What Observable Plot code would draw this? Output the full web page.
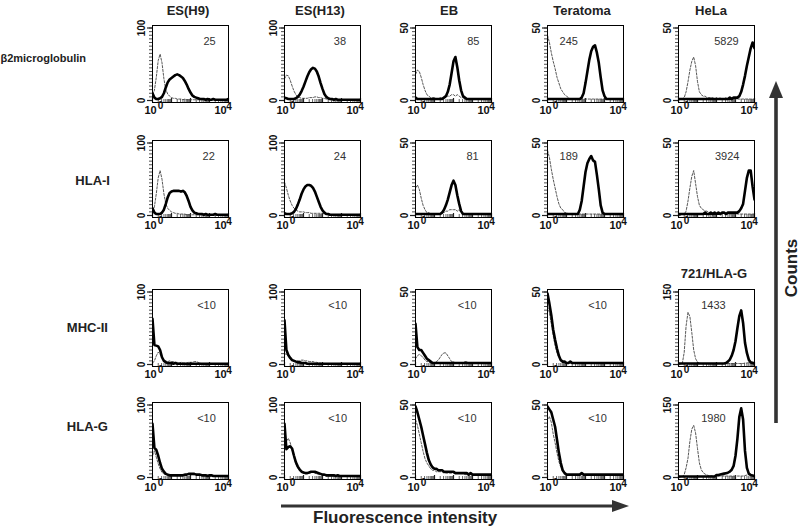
<!DOCTYPE html>
<html><head><meta charset="utf-8">
<script src="https://cdn.jsdelivr.net/npm/d3@7"></script>
<script src="https://cdn.jsdelivr.net/npm/@observablehq/plot@0.6"></script>
<style>
body{margin:0;background:#fff;}
#root{position:relative;width:800px;height:530px;font-family:"Liberation Sans",Arial,sans-serif;color:#222;overflow:hidden;}
.lbl{position:absolute;font-weight:bold;white-space:nowrap;line-height:1;}
.panel{position:absolute;}
</style></head><body><div id="root"></div>
<script>
// channel positions (log10 of fluorescence intensity)
const LOG_CHANNEL = [0,0.1,0.2,0.3,0.4,0.5,0.6,0.7,0.8,0.9,1,1.1,1.2,1.3,1.4,1.5,1.6,1.7,1.8,1.9,2,2.1,2.2,2.3,2.4,2.5,2.6,2.7,2.8,2.9,3,3.1,3.2,3.3,3.4,3.5,3.6,3.7,3.8,3.9,4];

const columns = ["ES(H9)","ES(H13)","EB","Teratoma","HeLa"];
const rowNames = ["β2microglobulin","HLA-I","MHC-II","HLA-G"];
const yMax = [[100,100,50,50,50],[100,100,50,50,50],[100,100,50,50,150],[100,100,50,50,150]];
const mfi = [["25","38","85","245","5829"],["22","24","81","189","3924"],["<10","<10","<10","<10","1433"],["<10","<10","<10","<10","1980"]];
const xTickBase = ["10","10"];
const xTickExp = ["0","4"];

// β2microglobulin
const b2m_H9_ctrl   = [8,14,32,55,64,52,30,15,9,6,4,3,3,2,2,2,1,2,1,1,1,1,1,1,1,1,1,1,1,1,1,1,1,1,1,1,1,1,1,1,1];
const b2m_H9_stain  = [10,4,2,2,3,5,10,18,25,29,31,33,35,36,35,33,31,27,22,16,11,7,5,4,3,2,2,2,1,2,1,1,2,1,1,1,1,1,1,1,2];
const b2m_H13_ctrl  = [30,35,34,28,20,13,8,5,4,3,3,3,3,4,4,4,5,5,4,4,3,3,2,2,1,1,1,1,1,1,1,1,1,1,1,1,1,1,1,1,1];
const b2m_H13_stain = [4,3,2,2,2,2,3,5,8,13,19,26,33,39,43,45,44,40,33,24,16,9,5,3,2,2,1,2,1,1,1,1,1,1,1,1,1,1,1,1,1];
const b2m_EB_ctrl   = [18,21,20,16,11,7,4,3,2,2,2,1,1,2,2,2,3,3,3,4,4,3,4,3,2,2,1,1,1,1,1,1,1,1,1,1,1,1,1,1,1];
const b2m_EB_stain  = [2,1,1,1,1,1,1,1,1,1,1,1,1,1,1,2,3,6,11,19,27,30,23,14,7,3,2,1,1,1,1,1,1,1,1,1,1,1,1,1,1];
const b2m_Ter_ctrl  = [45,40,33,27,22,16,12,8,6,4,3,2,1,1,1,1,1,1,1,1,1,1,1,1,1,1,1,1,1,1,1,1,1,1,1,1,1,1,1,1,1];
const b2m_Ter_stain = [1,1,1,1,1,1,1,1,1,1,1,1,1,1,1,1,1,1,2,5,12,20,28,34,37,38,33,26,16,7,3,1,1,1,1,1,1,1,1,1,1];
const b2m_HeLa_ctrl = [0,1,1,2,6,13,21,27,30,24,13,6,4,3,3,2,2,2,2,1,2,1,2,1,1,2,1,1,2,1,1,1,1,1,1,1,1,1,1,1,1];
const b2m_HeLa_stain= [1,1,1,1,1,1,1,1,1,1,1,1,1,1,1,1,1,1,1,1,1,1,1,1,1,1,1,2,1,2,2,2,3,6,11,17,24,30,36,40,36];
// HLA-I
const hla1_H9_ctrl   = [6,12,30,52,62,50,30,16,10,7,5,4,3,3,2,2,2,2,1,1,1,1,1,1,1,1,1,1,1,1,1,1,1,1,1,1,1,1,1,1,1];
const hla1_H9_stain  = [10,4,2,2,2,4,8,16,25,31,33,34,34,34,34,33,34,32,27,20,12,7,4,3,2,2,2,1,2,1,1,1,1,2,1,1,1,1,1,1,1];
const hla1_H13_ctrl  = [46,38,28,20,14,10,8,6,5,5,5,4,4,4,3,3,3,3,3,3,3,2,2,1,1,1,1,1,1,1,1,1,1,1,1,1,1,1,1,1,1];
const hla1_H13_stain = [3,2,2,2,3,5,9,15,22,30,36,40,42,42,41,38,33,26,19,12,7,4,2,2,1,1,1,1,1,1,1,1,1,1,1,1,1,1,1,1,1];
const hla1_EB_ctrl   = [19,21,18,12,7,4,2,2,1,1,1,1,1,1,2,2,3,3,4,4,4,4,3,4,2,1,1,1,1,1,1,1,1,1,1,1,1,1,1,1,1];
const hla1_EB_stain  = [1,1,1,1,1,1,1,1,1,1,1,1,1,1,2,4,7,11,16,21,24,21,14,8,3,1,1,1,1,1,1,1,1,1,1,1,1,1,1,1,1];
const hla1_Ter_ctrl  = [45,40,32,25,19,13,8,5,4,2,2,1,1,1,1,1,1,1,1,1,1,1,1,1,1,1,1,1,1,1,1,1,1,1,1,1,1,1,1,1,1];
const hla1_Ter_stain = [1,1,1,1,1,1,1,1,1,1,1,1,1,1,1,1,1,4,10,20,30,36,39,41,38,37,28,18,7,2,1,1,1,1,1,1,1,1,1,1,1];
const hla1_HeLa_ctrl = [0,0,1,1,3,10,19,27,31,22,13,7,5,4,3,3,2,2,2,2,1,2,1,1,2,1,1,1,1,1,1,1,1,1,1,1,1,1,1,1,1];
const hla1_HeLa_stain= [1,1,1,1,1,1,1,1,1,1,1,1,1,1,2,1,1,2,1,2,1,2,1,2,2,1,2,2,2,2,2,2,3,5,8,17,26,31,31,20,11];
// MHC-II
const mhc2_H9_ctrl   = [2,5,12,17,14,9,6,5,4,5,4,4,3,3,2,3,2,2,2,3,3,3,4,4,3,2,1,1,1,1,1,1,1,1,1,1,1,1,1,1,1];
const mhc2_H9_stain  = [63,27,26,25,20,10,5,3,2,2,2,1,2,1,1,1,1,1,1,1,1,1,1,1,1,1,1,1,1,1,1,1,1,1,1,1,1,1,1,1,1];
const mhc2_H13_ctrl  = [15,14,12,9,7,6,5,5,5,6,6,5,5,4,4,4,3,3,2,2,1,1,1,1,1,1,1,1,1,1,1,1,1,1,1,1,1,1,1,1,1];
const mhc2_H13_stain = [61,20,13,9,6,5,4,3,3,2,2,2,1,1,1,1,1,1,1,1,1,1,1,1,1,1,1,1,1,1,1,1,1,1,1,1,1,1,1,1,1];
const mhc2_EB_ctrl   = [4,6,7,6,5,3,2,2,1,1,1,2,3,5,7,8,8,6,4,2,2,1,1,1,1,1,2,2,1,1,1,1,1,1,1,1,1,1,1,1,1];
const mhc2_EB_stain  = [28,12,10,10,8,6,4,3,2,1,1,1,1,1,1,1,1,1,1,1,1,1,1,1,1,1,1,1,1,1,1,1,1,1,1,1,1,1,1,1,1];
const mhc2_Ter_ctrl  = [40,36,28,20,13,8,5,3,2,1,1,1,1,1,1,1,1,1,1,1,1,1,1,1,1,1,1,1,1,1,1,1,1,1,1,1,1,1,1,1,1];
const mhc2_Ter_stain = [49,42,34,24,17,11,6,3,2,2,1,1,2,1,1,1,1,1,1,1,1,1,1,1,1,1,1,1,1,1,1,1,1,1,1,1,1,1,1,1,1];
const mhc2_721_ctrl  = [0,1,2,25,80,108,99,66,30,12,5,3,2,2,2,2,2,2,2,2,2,2,2,2,2,2,2,2,2,2,2,2,2,2,2,3,3,4,5,6,4];
const mhc2_721_stain = [2,2,2,2,2,2,2,2,2,2,2,2,2,2,2,2,2,2,2,2,2,2,2,2,2,3,6,10,18,30,48,75,100,112,86,45,24,10,4,3,2];
// HLA-G
const hlag_H9_ctrl   = [30,37,28,19,12,7,5,4,3,3,3,3,3,3,3,3,3,3,4,4,4,4,4,4,4,4,3,3,3,2,2,2,2,2,2,2,2,2,2,2,2];
const hlag_H9_stain  = [74,41,38,30,20,12,8,5,4,3,3,3,3,3,3,3,3,4,4,5,5,5,5,4,4,4,3,3,3,2,3,3,2,2,2,2,2,2,2,2,2];
const hlag_H13_ctrl  = [40,50,54,48,38,28,19,13,10,7,6,6,6,6,7,7,6,5,4,4,3,3,2,2,2,2,2,2,2,2,2,2,2,2,2,2,2,2,2,2,2];
const hlag_H13_stain = [74,39,42,43,40,30,21,15,11,8,7,6,6,7,8,8,8,7,6,5,4,4,3,3,3,3,3,2,3,2,2,2,2,2,2,2,2,2,2,2,2];
const hlag_EB_ctrl   = [40,36,30,24,18,13,10,8,6,5,5,4,4,4,4,3,3,3,3,3,3,3,3,3,3,3,2,2,2,2,2,2,2,2,2,2,2,2,2,2,2];
const hlag_EB_stain  = [49,45,40,35,29,23,17,12,9,7,6,6,5,5,5,4,4,4,4,4,4,3,3,3,3,3,3,3,2,3,2,2,2,2,2,2,2,2,2,2,2];
const hlag_Ter_ctrl  = [40,42,38,30,24,17,11,7,4,3,2,2,2,2,2,2,2,2,2,2,2,2,2,2,2,2,2,2,2,2,2,2,2,2,2,2,2,2,2,2,2];
const hlag_Ter_stain = [49,47,45,40,35,26,17,10,5,3,2,2,2,2,2,2,2,2,3,2,2,2,2,2,2,2,2,2,2,2,2,2,2,2,2,2,2,2,2,2,2];
const hlag_721_ctrl  = [0,1,2,6,20,40,75,100,108,92,60,30,16,10,7,5,4,4,3,3,3,3,3,3,3,3,3,3,3,3,3,3,3,3,3,4,5,6,5,4,3];
const hlag_721_stain = [2,2,2,2,2,2,2,2,2,2,2,2,2,2,2,2,2,2,2,2,5,5,6,7,8,9,10,12,16,24,45,80,125,143,120,55,20,8,5,4,3];

const stainSeries = [
  [b2m_H9_stain, b2m_H13_stain, b2m_EB_stain, b2m_Ter_stain, b2m_HeLa_stain],
  [hla1_H9_stain, hla1_H13_stain, hla1_EB_stain, hla1_Ter_stain, hla1_HeLa_stain],
  [mhc2_H9_stain, mhc2_H13_stain, mhc2_EB_stain, mhc2_Ter_stain, mhc2_721_stain],
  [hlag_H9_stain, hlag_H13_stain, hlag_EB_stain, hlag_Ter_stain, hlag_721_stain]
];
const ctrlSeries = [
  [b2m_H9_ctrl, b2m_H13_ctrl, b2m_EB_ctrl, b2m_Ter_ctrl, b2m_HeLa_ctrl],
  [hla1_H9_ctrl, hla1_H13_ctrl, hla1_EB_ctrl, hla1_Ter_ctrl, hla1_HeLa_ctrl],
  [mhc2_H9_ctrl, mhc2_H13_ctrl, mhc2_EB_ctrl, mhc2_Ter_ctrl, mhc2_721_ctrl],
  [hlag_H9_ctrl, hlag_H13_ctrl, hlag_EB_ctrl, hlag_Ter_ctrl, hlag_721_ctrl]
];

// ---- layout (styling only) ----
const FRAME_LEFT = [152, 284, 415, 547, 678];
const FRAME_TOP = [25, 140, 289, 402];
const FW = 76, FH = 77;
const ML = 30, MR = 14, MT = 6, MB = 22;
const LABEL_FRAC = [[.75,.73,.76,.28,.63],[.74,.73,.75,.28,.64],[.71,.70,.68,.66,.46],[.71,.70,.68,.66,.46]];

const root = document.getElementById("root");
const FLUOR = LOG_CHANNEL.map(v => Math.pow(10, v));
const minorX = [];
for (let d = 0; d < 4; d++) for (let k = 2; k <= 9; k++) minorX.push(k * Math.pow(10, d));
const majorX = [1, 10, 100, 1000, 10000];
const T = {lineAnchor: "middle", textAnchor: "middle"};

for (let r = 0; r < 4; r++) {
  for (let c = 0; c < 5; c++) {
    const max = yMax[r][c];
    const minorY = d3.range(0, max + 1e-9, max / 20);
    const stain = stainSeries[r][c], ctrl = ctrlSeries[r][c];
    const svg = Plot.plot({
      width: FW + ML + MR, height: FH + MT + MB,
      marginLeft: ML, marginRight: MR, marginTop: MT, marginBottom: MB,
      x: {type: "log", domain: [1, 10000]},
      y: {domain: [0, max], insetTop: 2.5, insetBottom: 2},
      style: {fontFamily: "Liberation Sans, Arial, sans-serif", background: "transparent", overflow: "visible"},
      marks: [
        Plot.axisY(minorY, {anchor: "left", tickSize: 3, tickFormat: () => "", label: null, strokeWidth: 0.8}),
        Plot.axisY([0, max], {anchor: "left", tickSize: 5, tickFormat: () => "", label: null, strokeWidth: 1.2}),
        Plot.axisX(minorX, {anchor: "bottom", tickSize: -3, tickFormat: () => "", label: null, strokeWidth: 0.7}),
        Plot.axisX(majorX, {anchor: "bottom", tickSize: -4, tickFormat: () => "", label: null, strokeWidth: 1.2}),
        Plot.line(ctrl, {x: FLUOR, y: ctrl, stroke: "#444", strokeWidth: 0.9, strokeDasharray: "2.2,1.6", clip: true}),
        Plot.line(stain, {x: FLUOR, y: stain, stroke: "#000", strokeWidth: 2.6, clip: true}),
        Plot.frame({stroke: "#000", strokeWidth: 1}),
        Plot.text([0, max], {...T, y: d => d, frameAnchor: "left", dx: -11, rotate: -90, text: d => String(d), fontSize: 10, fontWeight: "bold", fill: "#111"}),
        Plot.text([1], {...T, x: d => d, frameAnchor: "bottom", dy: 8, dx: -2, text: () => xTickBase[0], fontSize: 11, fontWeight: "bold", fill: "#111"}),
        Plot.text([1], {...T, x: d => d, frameAnchor: "bottom", dy: 3, dx: 8, text: () => xTickExp[0], fontSize: 10, fontWeight: "bold", fill: "#111"}),
        Plot.text([10000], {...T, x: d => d, frameAnchor: "bottom", dy: 8, dx: -8, text: () => xTickBase[1], fontSize: 11, fontWeight: "bold", fill: "#111"}),
        Plot.text([10000], {...T, x: d => d, frameAnchor: "bottom", dy: 4, dx: 0.5, text: () => xTickExp[1], fontSize: 10, fontWeight: "bold", fill: "#111"}),
        Plot.text([mfi[r][c]], {...T, frameAnchor: "top-left", dx: LABEL_FRAC[r][c] * FW, dy: 16, text: d => d, fontSize: 11, fill: "#333"})
      ]
    });
    const wrap = document.createElement("div");
    wrap.className = "panel";
    wrap.style.left = (FRAME_LEFT[c] - ML) + "px";
    wrap.style.top = (FRAME_TOP[r] - MT) + "px";
    wrap.appendChild(svg);
    root.appendChild(wrap);
  }
}

function addLabel(text, x, y, size, anchor, rotate) {
  const el = document.createElement("div");
  el.className = "lbl";
  el.textContent = text;
  el.style.fontSize = size + "px";
  el.style.left = x + "px";
  el.style.top = y + "px";
  const tx = anchor === "end" ? "-100%" : anchor === "start" ? "0" : "-50%";
  el.style.transform = `translate(${tx},-50%)` + (rotate ? ` rotate(${rotate}deg)` : "");
  root.appendChild(el);
}
// column titles
const TITLE_SHIFT = [-2, -2, -4, -3, -5];
columns.forEach((t, c) => addLabel(t, FRAME_LEFT[c] + FW / 2 + TITLE_SHIFT[c], 10, 13, "middle"));
addLabel("721/HLA-G", FRAME_LEFT[4] + FW / 2 - 2, 273, 13, "middle");
// row labels
addLabel(rowNames[0], 86, 58, 11, "end");
addLabel(rowNames[1], 110, 180, 13, "end");
addLabel(rowNames[2], 108, 327, 13, "end");
addLabel(rowNames[3], 108, 426, 13, "end");
// axis arrows
const ns = "http://www.w3.org/2000/svg";
const over = document.createElementNS(ns, "svg");
over.setAttribute("width", 800); over.setAttribute("height", 530);
over.style.position = "absolute"; over.style.left = "0"; over.style.top = "0";
over.innerHTML = `
  <line x1="281" y1="506" x2="614" y2="506" stroke="#333" stroke-width="3.2"/>
  <polygon points="612,500 629,506 612,512" fill="#333"/>
  <line x1="776" y1="423" x2="776" y2="96" stroke="#333" stroke-width="3.6"/>
  <polygon points="769,98 776,81 783,98" fill="#333"/>`;
root.appendChild(over);
addLabel("Fluorescence intensity", 313, 517, 17, "start");
const cnt = document.createElement("div");
cnt.className = "lbl";
cnt.textContent = "Counts";
cnt.style.fontSize = "17px";
cnt.style.left = "791px"; cnt.style.top = "268px";
cnt.style.transform = "translate(-50%,-50%) rotate(-90deg)";
root.appendChild(cnt);
</script></body></html>
